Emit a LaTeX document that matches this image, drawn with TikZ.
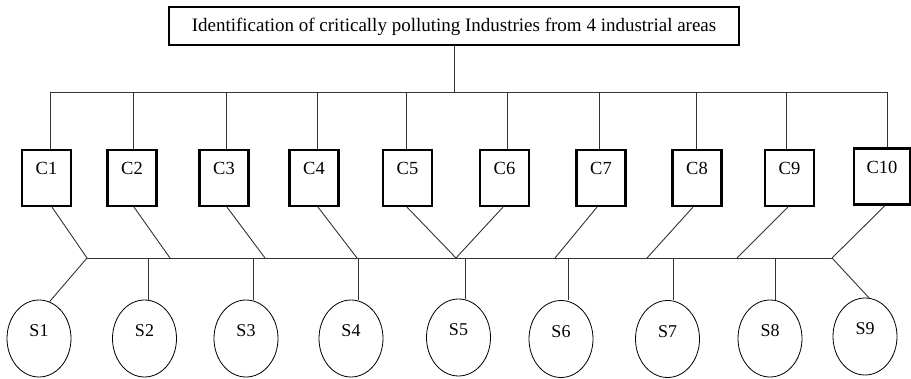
\documentclass[tikz,border=0pt]{standalone}
\usepackage{fontspec}
\setmainfont{Liberation Serif}
\usetikzlibrary{shapes.geometric}
\begin{document}
\begin{tikzpicture}[x=1pt,y=-1pt,
  topbox/.style={draw,line width=2.2pt,inner sep=0pt,minimum width=570pt,minimum height=38pt,
    text height=19pt,text depth=7pt,font=\fontsize{19}{22}\selectfont},
  cbox/.style={draw,line width=2.2pt,inner sep=0pt,minimum width=49pt,
    text height=25pt,text depth=31pt,font=\fontsize{18.5}{20}\selectfont},
  sell/.style={draw,ellipse,line width=0.8pt,inner sep=0pt,minimum width=64pt,minimum height=77pt,
    text height=10pt,text depth=13pt,font=\fontsize{18}{20}\selectfont},
  conn/.style={line width=0.9pt,draw=black!80}]
\useasboundingbox (0,0) rectangle (911,379);

\node[topbox] (top) at (454,26) {Identification of critically polluting Industries from 4 industrial areas};

% C boxes
\node[cbox] (c1) at (46.5,178) {C1};
\node[cbox] (c2) at (132,178) {C2};
\node[cbox] (c3) at (224,178) {C3};
\node[cbox] (c4) at (314,178) {C4};
\node[cbox] (c5) at (407.5,178) {C5};
\node[cbox] (c6) at (504.5,178) {C6};
\node[cbox] (c7) at (601,178) {C7};
\node[cbox] (c8) at (697,178) {C8};
\node[cbox] (c9) at (789.5,178) {C9};
\node[cbox,minimum width=56pt] (c10) at (882,176.5) {C10};

% S ellipses
\node[sell] (s1) at (39,338.5) {S1};
\node[sell] (s2) at (144.5,338.5) {S2};
\node[sell] (s3) at (246,338.5) {S3};
\node[sell] (s4) at (351,338.5) {S4};
\node[sell] (s5) at (458.5,337.5) {S5};
\node[sell] (s6) at (561,339) {S6};
\node[sell] (s7) at (667.5,339) {S7};
\node[sell] (s8) at (770,338.5) {S8};
\node[sell] (s9) at (865,336.5) {S9};

% top bus
\coordinate (tm) at (454,92);
\coordinate (t1) at (50,92);
\coordinate (t2) at (133,92);
\coordinate (t3) at (226,92);
\coordinate (t4) at (317,92);
\coordinate (t5) at (406,92);
\coordinate (t6) at (507,92);
\coordinate (t7) at (599,92);
\coordinate (t8) at (696,92);
\coordinate (t9) at (786,92);
\coordinate (t10) at (887,92);
\draw[conn] (top.south -| tm) -- (tm);
\draw[conn] (t1) -- (t10);
\foreach \i in {1,...,10} {\draw[conn] (t\i) -- (t\i |- c\i.north);}

% lower bus
\coordinate (bl) at (87,258);
\coordinate (br) at (832,258);
\coordinate (b2) at (170,258);
\coordinate (b3) at (265,258);
\coordinate (b4) at (357,258);
\coordinate (b5) at (456,258);
\coordinate (b7) at (555,258);
\coordinate (b8) at (647,258);
\coordinate (b9) at (737,258);
\draw[conn] (bl) -- (br);

\draw[conn] ([xshift=5.5pt]c1.south) -- (bl);
\draw[conn] ([xshift=2pt]c2.south) -- (b2);
\draw[conn] ([xshift=3pt]c3.south) -- (b3);
\draw[conn] ([xshift=4pt]c4.south) -- (b4);
\draw[conn] ([xshift=-0.5pt]c5.south) -- (b5);
\draw[conn] ([xshift=-1.5pt]c6.south) -- (b5);
\draw[conn] ([xshift=-4pt]c7.south) -- (b7);
\draw[conn] ([xshift=-4pt]c8.south) -- (b8);
\draw[conn] ([xshift=-1.5pt]c9.south) -- (b9);
\draw[conn] ([xshift=3pt]c10.south) -- (br);

% bus to S
\coordinate (v2) at (148,258);
\coordinate (v3) at (253,258);
\coordinate (v4) at (358,258);
\coordinate (v5) at (465,258);
\coordinate (v6) at (568,258);
\coordinate (v7) at (673,258);
\coordinate (v8) at (775,258);
\draw[conn] (bl) -- (s1.74);
\foreach \i in {2,...,8} {\draw[conn] (v\i) -- (v\i |- s\i.north);}
\draw[conn] (br) -- (s9.84);
\end{tikzpicture}
\end{document}
